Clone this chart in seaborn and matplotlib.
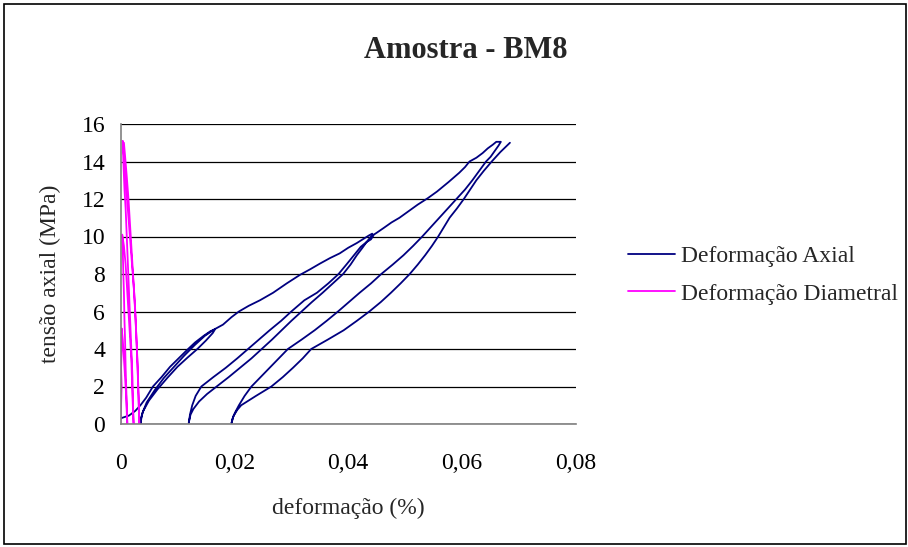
import matplotlib.pyplot as plt
import numpy as np
import pandas as pd
import seaborn as sns
from matplotlib.patches import Rectangle

# Deformação axial (%) x tensão (MPa), ciclos de carga e descarga
carga1_def = [0.0000, 0.0015, 0.0026, 0.0035, 0.0045, 0.0057, 0.0072, 0.0087, 0.0102, 0.0117,
              0.0131, 0.0146, 0.0158, 0.0166]
carga1_ten = [0.30, 0.45, 0.70, 1.00, 1.40, 2.00, 2.50, 3.05, 3.50, 3.95,
              4.35, 4.70, 4.95, 5.05]
descarga1_def = [0.0162, 0.0150, 0.0135, 0.0118, 0.0100, 0.0082, 0.0065, 0.0050, 0.0040, 0.0036, 0.0035]
descarga1_ten = [4.85, 4.45, 4.00, 3.55, 3.05, 2.45, 1.85, 1.25, 0.70, 0.30, 0.00]

carga2_def = [0.0035, 0.0038, 0.0046, 0.0060, 0.0076, 0.0094, 0.0112, 0.0130, 0.0148, 0.0165,
              0.0180, 0.0195, 0.0208, 0.0225, 0.0245, 0.0268, 0.0292, 0.0315, 0.0333, 0.0350,
              0.0368, 0.0385, 0.0400, 0.0415, 0.0428, 0.0436, 0.0442, 0.0444]
carga2_ten = [0.00, 0.55, 1.15, 1.80, 2.45, 3.05, 3.65, 4.20, 4.70, 5.05,
              5.30, 5.70, 6.00, 6.30, 6.60, 7.00, 7.50, 7.95, 8.25, 8.55,
              8.85, 9.10, 9.40, 9.65, 9.90, 10.05, 10.15, 10.05]
descarga2_def = [0.0440, 0.0432, 0.0422, 0.0410, 0.0398, 0.0383, 0.0365, 0.0345, 0.0323, 0.0300,
                 0.0282, 0.0262, 0.0243, 0.0224, 0.0205, 0.0185, 0.0163, 0.0142, 0.0132, 0.0126,
                 0.0122, 0.0120]
descarga2_ten = [9.85, 9.70, 9.45, 9.00, 8.55, 8.00, 7.50, 7.00, 6.60, 6.00,
                 5.50, 5.00, 4.50, 4.00, 3.50, 3.00, 2.50, 2.00, 1.50, 1.00,
                 0.50, 0.05]

carga3_def = [0.0120, 0.0123, 0.0128, 0.0138, 0.0152, 0.0169, 0.0190, 0.0210, 0.0230, 0.0248,
              0.0266, 0.0283, 0.0300, 0.0318, 0.0336, 0.0355, 0.0373, 0.0391, 0.0404, 0.0415,
              0.0425, 0.0432, 0.0440, 0.0450, 0.0462, 0.0476, 0.0490, 0.0506, 0.0522, 0.0540,
              0.0556, 0.0576, 0.0595, 0.0605, 0.0613, 0.0625, 0.0636, 0.0645, 0.0654, 0.0660]
carga3_ten = [0.10, 0.50, 0.80, 1.20, 1.60, 2.00, 2.50, 3.00, 3.50, 4.00,
              4.50, 5.00, 5.50, 6.00, 6.50, 7.00, 7.50, 8.00, 8.50, 9.00,
              9.40, 9.70, 10.00, 10.20, 10.45, 10.75, 11.00, 11.35, 11.70, 12.05,
              12.40, 12.90, 13.40, 13.70, 14.00, 14.20, 14.45, 14.70, 14.90, 15.05]
descarga3_def = [0.0668, 0.0664, 0.0657, 0.0650, 0.0642, 0.0630, 0.0618, 0.0605, 0.0590, 0.0575,
                 0.0560, 0.0545, 0.0530, 0.0514, 0.0497, 0.0478, 0.0458, 0.0440, 0.0420, 0.0401,
                 0.0382, 0.0362, 0.0341, 0.0318, 0.0294, 0.0278, 0.0262, 0.0246, 0.0230, 0.0218,
                 0.0208, 0.0201, 0.0197, 0.0195]
descarga3_ten = [15.05, 14.85, 14.55, 14.25, 14.00, 13.50, 13.00, 12.50, 12.00, 11.50,
                 11.00, 10.50, 10.00, 9.50, 9.00, 8.50, 8.00, 7.50, 7.00, 6.50,
                 6.00, 5.50, 5.00, 4.50, 4.00, 3.50, 3.00, 2.50, 2.00, 1.50,
                 1.00, 0.60, 0.30, 0.05]

carga4_def = [0.0195, 0.0198, 0.0205, 0.0212, 0.0238, 0.0265, 0.0285, 0.0303, 0.0320, 0.0335,
              0.0364, 0.0392, 0.0415, 0.0437, 0.0457, 0.0475, 0.0492, 0.0508, 0.0522, 0.0535,
              0.0547, 0.0558, 0.0568, 0.0578, 0.0591, 0.0603, 0.0614, 0.0625, 0.0638, 0.0652,
              0.0667, 0.0684]
carga4_ten = [0.05, 0.40, 0.75, 1.00, 1.50, 2.00, 2.50, 3.00, 3.50, 4.00,
              4.50, 5.00, 5.50, 6.00, 6.50, 7.00, 7.50, 8.00, 8.50, 9.00,
              9.50, 10.00, 10.50, 11.00, 11.50, 12.00, 12.50, 13.00, 13.50, 14.00,
              14.50, 15.00]

# Deformação diametral (%)
diam_carga1_def = [0.0000, 0.0001, 0.0002, 0.0001, 0.0002, 0.0002]
diam_carga1_ten = [0.0, 1.0, 2.0, 3.0, 4.0, 5.1]
diam_descarga1_def = [0.0004, 0.0006, 0.0008, 0.0010, 0.0011, 0.0012]
diam_descarga1_ten = [4.5, 3.5, 2.5, 1.5, 0.6, 0.0]
diam_carga2_def = [0.0011, 0.0010, 0.0009, 0.0008, 0.0007, 0.0006, 0.0005, 0.0004, 0.0003]
diam_carga2_ten = [1.0, 2.0, 3.0, 4.5, 5.5, 7.0, 8.0, 9.2, 10.1]
diam_descarga2_def = [0.0006, 0.0009, 0.0011, 0.0013, 0.0015, 0.0017, 0.0019, 0.0020, 0.0021, 0.0022, 0.0023]
diam_descarga2_ten = [9.5, 8.5, 7.5, 6.5, 5.5, 4.5, 3.5, 2.5, 1.5, 0.7, 0.0]
diam_carga3_def = [0.0022, 0.0021, 0.0019, 0.0017, 0.0015, 0.0013, 0.0011, 0.0009, 0.0007, 0.0005, 0.0004]
diam_carga3_ten = [1.0, 2.5, 4.0, 5.5, 7.0, 8.5, 10.0, 11.5, 12.5, 14.0, 15.1]
diam_descarga3_def = [0.0006, 0.0009, 0.0012, 0.0015, 0.0018, 0.0021, 0.0024, 0.0026, 0.0028, 0.0030, 0.0031, 0.0033]
diam_descarga3_ten = [14.3, 13.0, 11.8, 10.6, 9.4, 8.2, 7.0, 5.8, 4.6, 3.2, 1.8, 0.0]
diam_carga4_def = [0.0032, 0.0030, 0.0028, 0.0026, 0.0023, 0.0020, 0.0017, 0.0014, 0.0011, 0.0008, 0.0006]
diam_carga4_ten = [1.5, 3.0, 4.5, 6.0, 7.5, 9.0, 10.5, 12.0, 13.2, 14.3, 15.0]

series = ["Deformação Axial", "Deformação Diametral"]
cores = ["#000080", "#FF00FF"]
xticks = [0, 0.02, 0.04, 0.06, 0.08]
xtick_labels = ["0", "0,02", "0,04", "0,06", "0,08"]
yticks = [0, 2, 4, 6, 8, 10, 12, 14, 16]

axial = [(carga1_def, carga1_ten), (descarga1_def, descarga1_ten),
         (carga2_def, carga2_ten), (descarga2_def, descarga2_ten),
         (carga3_def, carga3_ten), (descarga3_def, descarga3_ten),
         (carga4_def, carga4_ten)]
diametral = [(diam_carga1_def, diam_carga1_ten), (diam_descarga1_def, diam_descarga1_ten),
             (diam_carga2_def, diam_carga2_ten), (diam_descarga2_def, diam_descarga2_ten),
             (diam_carga3_def, diam_carga3_ten), (diam_descarga3_def, diam_descarga3_ten),
             (diam_carga4_def, diam_carga4_ten)]

frames = []
for nome, trechos in zip(series, [axial, diametral]):
    d = np.concatenate([t[0] for t in trechos])
    s = np.concatenate([t[1] for t in trechos])
    frames.append(pd.DataFrame({"deformacao": d, "tensao": s, "serie": nome}))
df = pd.concat(frames, ignore_index=True)

sns.set_theme(style="white")
plt.rcParams["font.family"] = ["Liberation Serif", "DejaVu Serif"]

fig = plt.figure(figsize=(9.08, 5.47), dpi=100)
ax = fig.add_axes([120.5 / 908, 1 - 424 / 547, 455.5 / 908, 300 / 547])

sns.lineplot(data=df, x="deformacao", y="tensao", hue="serie", palette=cores,
             estimator=None, sort=False, lw=1.3, ax=ax, legend=False)

ax.set_xlim(0, 0.08)
ax.set_ylim(0, 16)
ax.set_xticks(xticks)
ax.set_xticklabels(xtick_labels)
ax.set_yticks(yticks)
ax.yaxis.grid(True, color="black", lw=0.9)
ax.xaxis.grid(False)
for lado in ["top", "right"]:
    ax.spines[lado].set_visible(False)
for lado in ["left", "bottom"]:
    ax.spines[lado].set_color("#808080")
    ax.spines[lado].set_linewidth(1.2)
ax.tick_params(axis="both", direction="out", length=5, width=1, color="#808080",
               labelsize=17, labelcolor="black")
ax.tick_params(axis="x", pad=16)
ax.tick_params(axis="y", pad=6)

ax.set_xlabel("deformação (%)", fontsize=17)
ax.set_ylabel("tensão axial (MPa)", fontsize=17)
ax.xaxis.set_label_coords(0.5, -0.245)
ax.yaxis.set_label_coords(-0.13, 0.5)

fig.text(466 / 908, 1 - 50 / 547, "Amostra - BM8", ha="center", va="center",
         fontsize=22, fontweight="bold")

handles = [plt.Line2D([], [], color=c, lw=1.3) for c in cores]
fig.legend(handles, series, loc="center left", bbox_to_anchor=(628 / 908, 1 - 275 / 547),
           frameon=False, fontsize=17, handlelength=2.0, handletextpad=0.25,
           labelspacing=0.68, borderpad=0, borderaxespad=0)

fig.patches.append(Rectangle((4 / 908, 3 / 547), 902 / 908, 540 / 547, transform=fig.transFigure,
                             fill=False, edgecolor="black", lw=1.2))

fig.savefig("out.png", dpi=100)
